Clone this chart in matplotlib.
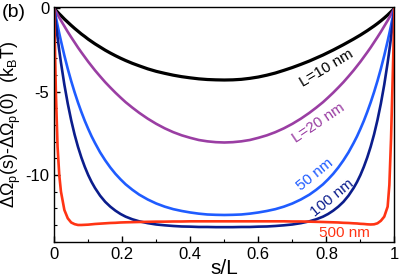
import matplotlib
matplotlib.use("Agg")
import matplotlib.pyplot as plt
from matplotlib.ticker import MultipleLocator, FuncFormatter

plt.rcParams["font.family"] = ["Liberation Sans", "DejaVu Sans"]
plt.rcParams["mathtext.fontset"] = "custom"
plt.rcParams["mathtext.rm"] = "Liberation Sans"
plt.rcParams["axes.unicode_minus"] = False

# s/L grid (denser near the walls)
s_vals = [0, 0.005, 0.01, 0.015, 0.02, 0.03, 0.04, 0.05, 0.06, 0.07, 0.08,
          0.09, 0.1, 0.11, 0.12, 0.135, 0.15, 0.165, 0.18, 0.195, 0.21, 0.23,
          0.25, 0.275, 0.3, 0.325, 0.35, 0.375, 0.4, 0.425, 0.45, 0.475, 0.5,
          0.525, 0.55, 0.575, 0.6, 0.625, 0.65, 0.675, 0.7, 0.725, 0.75, 0.77,
          0.79, 0.805, 0.82, 0.835, 0.85, 0.865, 0.88, 0.89, 0.9, 0.91, 0.92,
          0.93, 0.94, 0.95, 0.96, 0.97, 0.98, 0.985, 0.99, 0.995, 1.0]

# Delta Omega_p(s) - Delta Omega_p(0) in k_B T
omega_10 = [0, -0.11, -0.22, -0.33, -0.43, -0.64, -0.83, -1.02, -1.20, -1.37, -1.54,
            -1.69, -1.85, -1.99, -2.13, -2.32, -2.51, -2.68, -2.84, -2.99, -3.13, -3.30,
            -3.45, -3.63, -3.78, -3.90, -4.01, -4.10, -4.17, -4.23, -4.27, -4.29, -4.30,
            -4.29, -4.26, -4.20, -4.12, -4.01, -3.88, -3.72, -3.55, -3.36, -3.16, -2.98,
            -2.80, -2.65, -2.50, -2.34, -2.18, -2.01, -1.84, -1.72, -1.60, -1.47, -1.34,
            -1.20, -1.06, -0.91, -0.75, -0.58, -0.40, -0.30, -0.20, -0.10, 0]
omega_20 = [0, -0.19, -0.37, -0.55, -0.73, -1.07, -1.41, -1.73, -2.04, -2.35, -2.64,
            -2.92, -3.20, -3.46, -3.72, -4.08, -4.43, -4.75, -5.06, -5.35, -5.63, -5.96,
            -6.27, -6.62, -6.93, -7.20, -7.43, -7.62, -7.77, -7.90, -7.98, -8.03, -8.05,
            -8.03, -7.98, -7.90, -7.77, -7.62, -7.43, -7.20, -6.93, -6.62, -6.27, -5.96,
            -5.63, -5.35, -5.06, -4.75, -4.43, -4.08, -3.72, -3.46, -3.20, -2.92, -2.64,
            -2.35, -2.04, -1.73, -1.41, -1.07, -0.73, -0.55, -0.37, -0.19, 0]
omega_50 = [0, -0.52, -1.02, -1.50, -1.96, -2.83, -3.63, -4.36, -5.03, -5.65, -6.22,
            -6.75, -7.23, -7.68, -8.08, -8.64, -9.12, -9.55, -9.93, -10.26, -10.56, -10.89,
            -11.18, -11.47, -11.71, -11.90, -12.05, -12.16, -12.25, -12.32, -12.37, -12.39, -12.40,
            -12.39, -12.37, -12.32, -12.25, -12.16, -12.05, -11.90, -11.71, -11.47, -11.18, -10.89,
            -10.56, -10.26, -9.93, -9.55, -9.12, -8.64, -8.08, -7.68, -7.23, -6.75, -6.22,
            -5.65, -5.03, -4.36, -3.63, -2.83, -1.96, -1.50, -1.02, -0.52, 0]
omega_100 = [0, -0.90, -1.74, -2.53, -3.26, -4.58, -5.72, -6.71, -7.57, -8.31, -8.95,
             -9.51, -10.00, -10.42, -10.78, -11.24, -11.61, -11.90, -12.14, -12.34, -12.50, -12.66,
             -12.78, -12.89, -12.97, -13.02, -13.06, -13.09, -13.10, -13.12, -13.12, -13.13, -13.13,
             -13.13, -13.12, -13.12, -13.10, -13.09, -13.06, -13.02, -12.97, -12.89, -12.78, -12.66,
             -12.50, -12.34, -12.14, -11.90, -11.61, -11.24, -10.78, -10.42, -10.00, -9.51, -8.95,
             -8.31, -7.57, -6.71, -5.72, -4.58, -3.26, -2.53, -1.74, -0.90, 0]
omega_500 = [0, -5.0, -8.3, -10.0, -11.0, -12.1, -12.6, -12.85, -12.95, -13.0, -13.0,
             -12.99, -12.98, -12.96, -12.94, -12.92, -12.9, -12.88, -12.87, -12.85, -12.84, -12.83,
             -12.82, -12.81, -12.8, -12.8, -12.79, -12.79, -12.78, -12.78, -12.78, -12.78, -12.78,
             -12.78, -12.78, -12.78, -12.78, -12.78, -12.78, -12.78, -12.79, -12.79, -12.8, -12.81,
             -12.82, -12.83, -12.84, -12.85, -12.87, -12.88, -12.9, -12.91, -12.93, -12.94, -12.96,
             -12.97, -12.96, -12.9, -12.75, -12.5, -11.9, -10.6, -7.8, -4.0, 0]

series = [
    (omega_10, "black", 2.3),
    (omega_20, "#9a3ea3", 1.9),
    (omega_50, "#1f5cff", 1.9),
    (omega_100, "#0b1d8c", 1.9),
    (omega_500, "#ff3414", 1.9),
]

# curve labels: text, s, value, angle, colour
curve_labels = [
    ("L=10 nm", 0.80, -3.6, 31, "black"),
    ("L=20 nm", 0.776, -6.85, 34, "#9a3ea3"),
    ("50 nm", 0.767, -10.0, 39, "#1f5cff"),
    ("100 nm", 0.816, -11.35, 39, "#0b1d8c"),
    ("500 nm", 0.852, -13.5, 0, "#ff3414"),
]


def main() -> None:
    fig = plt.figure(figsize=(4.15, 2.79), dpi=100)
    ax = fig.add_axes([0.1305, 0.1315, 0.82, 0.8445])

    for values, color, lw in series:
        ax.plot(s_vals, values, color=color, lw=lw, solid_capstyle="round")

    for text, x, y, angle, color in curve_labels:
        ax.text(x, y, text, color=color, fontsize=11, rotation=angle,
                rotation_mode="anchor", ha="center", va="center")

    ax.set_xlim(0, 1.0)
    ax.set_ylim(-14.04, 0.1)
    ax.xaxis.set_major_locator(MultipleLocator(0.2))
    ax.xaxis.set_minor_locator(MultipleLocator(0.1))
    ax.yaxis.set_major_locator(MultipleLocator(5))
    ax.yaxis.set_minor_locator(MultipleLocator(1))
    ax.xaxis.set_major_formatter(FuncFormatter(lambda v, p: f"{v:g}"))
    ax.yaxis.set_major_formatter(FuncFormatter(lambda v, p: f"{v:g}"))
    ax.tick_params(which="both", direction="in", labelsize=12)
    ax.tick_params(which="major", length=4, width=1)
    ax.tick_params(which="minor", length=2.5, width=0.8)
    for spine in ax.spines.values():
        spine.set_linewidth(1.0)

    ax.set_xlabel("s/L", fontsize=15, labelpad=-2)
    ax.set_ylabel("ΔΩ$_\\mathrm{p}$(s)-ΔΩ$_\\mathrm{p}$(0)  (k$_\\mathrm{B}$T)",
                  fontsize=13, labelpad=2)
    fig.text(0.005, 0.985, "(b)", fontsize=14, ha="left", va="top")

    fig.savefig("out.png", dpi=100)
    plt.close(fig)


if __name__ == "__main__":
    main()
